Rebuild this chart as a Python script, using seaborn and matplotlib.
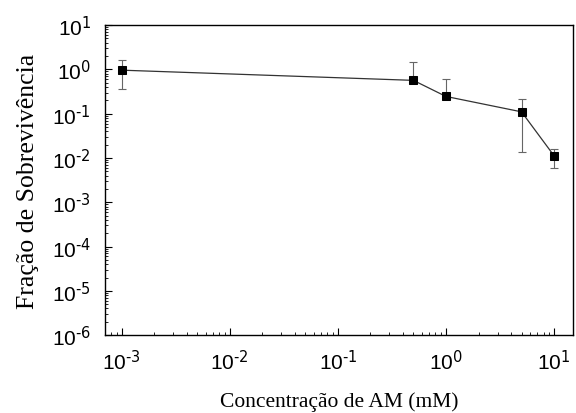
import numpy as np
import pandas as pd
import seaborn as sns
import matplotlib
matplotlib.use('Agg')
import matplotlib.pyplot as plt
from matplotlib.ticker import LogLocator, NullFormatter, FuncFormatter

# data
conc = [0.001, 0.5, 1.0, 5.0, 10.0]
survival = [0.96, 0.565, 0.245, 0.11, 0.0112]
err_low = [0.36, 0.50, 0.22, 0.0138, 0.0059]
err_high = [1.62, 1.44, 0.61, 0.214, 0.0162]

df = pd.DataFrame({'conc': conc, 'survival': survival})

sns.set_style('ticks')
plt.rcParams['font.family'] = ['Liberation Sans', 'DejaVu Sans']
plt.rcParams['mathtext.default'] = 'regular'
plt.rcParams['axes.unicode_minus'] = False
for key in ['text.color', 'axes.labelcolor', 'xtick.color', 'ytick.color']:
    plt.rcParams[key] = 'black'


def pow10(v, pos):
    # short hyphen in the exponent, like the original
    e = int(round(np.log10(v)))
    return r'$10^{\text{%s}}$' % str(e)


fig, ax = plt.subplots(figsize=(5.76, 4.14), dpi=100)
fig.subplots_adjust(left=0.182, right=0.995, top=0.937, bottom=0.188)

yerr = [np.array(survival) - np.array(err_low), np.array(err_high) - np.array(survival)]
ax.errorbar(conc, survival, yerr=yerr, fmt='none', ecolor='#666666',
            elinewidth=0.8, capsize=3, capthick=0.8, zorder=2)
sns.lineplot(data=df, x='conc', y='survival', ax=ax, color='#333333', lw=0.9,
             marker='s', markersize=5.5, markerfacecolor='black',
             markeredgecolor='black', zorder=3)

ax.set_xscale('log')
ax.set_yscale('log')
ax.set_xlim(7e-4, 15)
ax.set_ylim(1e-6, 10)

ax.xaxis.set_major_locator(LogLocator(base=10, numticks=10))
ax.yaxis.set_major_locator(LogLocator(base=10, numticks=10))
ax.xaxis.set_minor_locator(LogLocator(base=10, subs=np.arange(2, 10), numticks=20))
ax.yaxis.set_minor_locator(LogLocator(base=10, subs=np.arange(2, 10), numticks=20))
ax.xaxis.set_major_formatter(FuncFormatter(pow10))
ax.yaxis.set_major_formatter(FuncFormatter(pow10))
ax.xaxis.set_minor_formatter(NullFormatter())
ax.yaxis.set_minor_formatter(NullFormatter())

ax.tick_params(which='major', direction='in', length=5, width=0.8, labelsize=15,
               color='black', labelcolor='black', pad=10)
ax.tick_params(which='minor', direction='in', length=2.5, width=0.6, color='black')

for s in ax.spines.values():
    s.set_color('black')
    s.set_linewidth(1.0)

ax.set_xlabel('Concentração de AM (mM)', fontsize=15.5, family='Liberation Serif',
              labelpad=13, color='black')
ax.set_ylabel('Fração de Sobrevivência', fontsize=18.5, family='Liberation Serif',
              labelpad=9, color='black')

fig.savefig('out.png', dpi=100)
